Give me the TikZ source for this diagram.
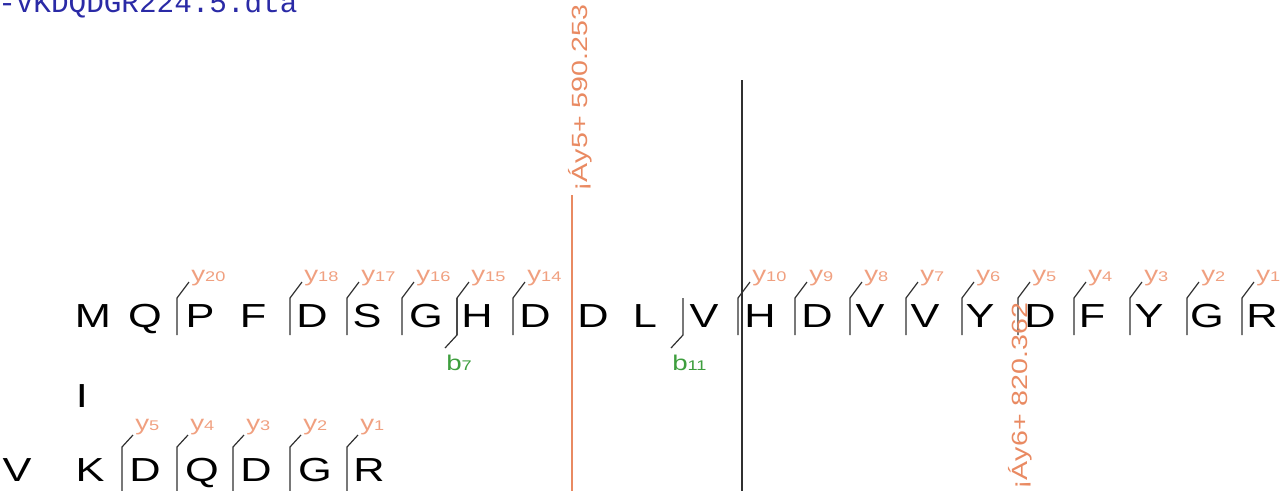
\documentclass[tikz,border=0pt]{standalone}
\usepackage{fontspec}
\usepackage{xcolor}
\newfontfamily\seqfont[FakeStretch=1.3]{Liberation Sans}
\newfontfamily\filefont{Liberation Mono}
\definecolor{ionsalmon}{HTML}{F0A080}
\definecolor{peaksalmon}{HTML}{E98A62}
\definecolor{iongreen}{HTML}{3E9E3E}
\definecolor{fileblue}{HTML}{2A2AA6}
\definecolor{cutgray}{HTML}{303030}
\tikzset{
  res/.style={font=\seqfont\fontsize{25}{25}\selectfont, inner sep=0pt, anchor=base},
  ylbl/.style={font=\seqfont\fontsize{16}{16}\selectfont, text=ionsalmon, inner sep=0pt, anchor=base west},
  blbl/.style={font=\seqfont\fontsize{16}{16}\selectfont, text=iongreen, inner sep=0pt, anchor=base west},
  frag/.style={line width=0.9pt, color=cutgray},
  peak/.style={font=\seqfont\fontsize{16.5}{16.5}\selectfont, text=peaksalmon, inner sep=0pt, rotate=90},
}
\newcommand{\ionnum}[2]{#1{\fontsize{10.5}{10.5}\selectfont #2}}

\begin{document}
\begin{tikzpicture}[x=0.75pt, y=-0.75pt]
\useasboundingbox (0,0) rectangle (1286,490);
\node[font=\filefont\fontsize{22}{22}\selectfont, text=fileblue, inner sep=0pt, anchor=base west] (file) at (-2,12) {-VKDQDGR224.5.dta};

% peptide 1
\foreach \x/\aa [count=\i] in {93/M, 145/Q, 200/P, 253/F, 312/D, 367/S, 426/G, 477/H, 535/D, 593/D, 645/L,
  704/V, 760/H, 817/D, 870/V, 925/V, 980/Y, 1040/D, 1092/F, 1149/Y, 1207/G, 1262/R}
  {\node[res] (a\i) at (\x,327) {\aa};}
\foreach \x/\n in {177/20, 290/18, 347/17, 402/16, 457/15, 513/14, 738/10, 795/9, 850/8, 906/7,
  962/6, 1018/5, 1074/4, 1130/3, 1187/2, 1242/1}
{
  \draw[frag] (\x,335) -- (\x,298) -- ++(12,-16);
  \node[ylbl] (y\n) at (\x+14,281) {\ionnum{y}{\n}};
}
\foreach \x/\n in {457/7, 683/11}
{
  \draw[frag] (\x,298) -- (\x,335) -- ++(-12,13);
  \node[blbl] (b\n) at (\x-11,370) {\ionnum{b}{\n}};
}

% link
\node[res] (link) at (82,407) {I};

% peptide 2
\foreach \x/\aa [count=\i] in {17/V, 90/K, 145/D, 202/Q, 256/D, 315/G, 369/R}
  {\node[res] (c\i) at (\x,481) {\aa};}
\foreach \x/\n in {122/5, 177/4, 233/3, 290/2, 347/1}
{
  \draw[frag] (\x,495) -- (\x,447) -- ++(11,-12);
  \node[ylbl] (z\n) at (\x+13,430) {\ionnum{y}{\n}};
}

% peaks
\draw[line width=1.5pt, cutgray] (742,80) -- (742,495);
\draw[line width=1pt, peaksalmon] (572,195) -- (572,495);
\node[peak, anchor=base west] (pk1) at (587,192) {¡Áy5+ 590.253};
\node[peak, anchor=base west] (pk2) at (1027,490) {¡Áy6+ 820.362};
\end{tikzpicture}
\end{document}
